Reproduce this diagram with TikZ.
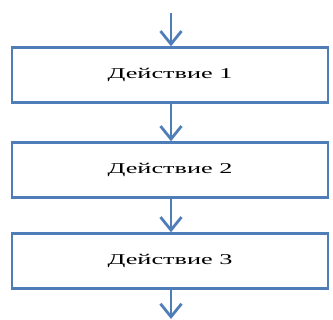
\documentclass[tikz,border=0pt]{standalone}
\usepackage{fontspec}
\setmainfont{Liberation Serif}
\usetikzlibrary{arrows.meta}
\definecolor{flowblue}{HTML}{4F7DB8}
\tikzset{
  actbox/.style={draw=flowblue, line width=2.4bp, fill=white, rectangle,
    minimum width=316bp, minimum height=55bp, inner sep=0pt,
    font=\fontsize{15bp}{17bp}\selectfont},
  flowarrow/.style={draw=flowblue, line width=2.8bp,
    -{Straight Barb[length=13bp, width=21bp, line width=2.8bp]}}
}
\newcommand{\acttext}[1]{\scalebox{1.75}[1]{#1}}
\begin{document}
\begin{tikzpicture}[x=1bp,y=-1bp]
  \useasboundingbox (0,0) rectangle (333,320);
  \coordinate (start) at (171,13);
  \coordinate (finish) at (171,319);
  \node[actbox] (a1) at (170,75) {\acttext{Действие 1}};
  \node[actbox] (a2) at (170,170) {\acttext{Действие 2}};
  \node[actbox] (a3) at (170,261) {\acttext{Действие 3}};
  \draw[flowarrow] (start) -- (start |- a1.north);
  \draw[flowarrow] (start |- a1.south) -- (start |- a2.north);
  \draw[flowarrow] (start |- a2.south) -- (start |- a3.north);
  \draw[flowarrow] (start |- a3.south) -- (finish);
\end{tikzpicture}
\end{document}
